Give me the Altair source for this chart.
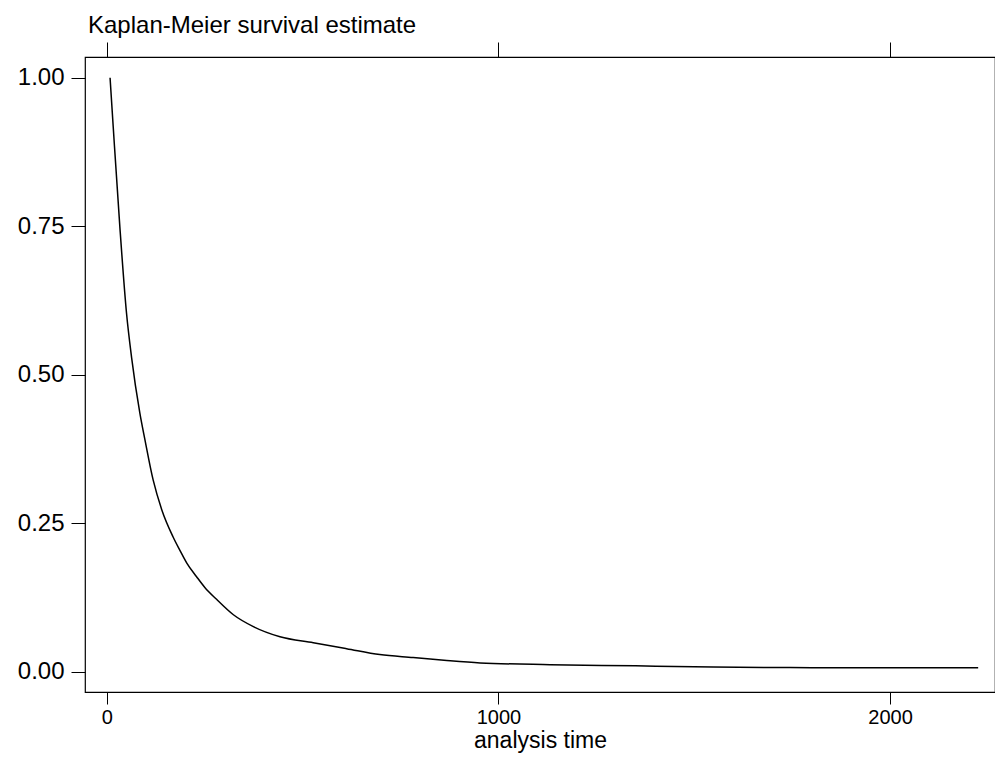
import altair as alt
import pandas as pd

# Kaplan-Meier survival curve
time = [8, 16, 33, 50, 63, 84, 97, 118, 140, 169, 186, 204, 229, 250, 280, 323, 374, 442,
        527, 612, 697, 782, 868, 953, 1132, 1350, 1548, 1800, 2225]
survival = [1.0, 0.918, 0.749, 0.604, 0.529, 0.436, 0.391, 0.323, 0.273, 0.227, 0.205, 0.183,
            0.160, 0.142, 0.122, 0.096, 0.076, 0.059, 0.049, 0.039, 0.029, 0.024, 0.019, 0.015,
            0.012, 0.010, 0.008, 0.007, 0.007]
x_ticks = [0, 1000, 2000]
y_ticks = [0, 0.25, 0.5, 0.75, 1.0]

df = pd.DataFrame({"t": time, "s": survival})

FONT = "Liberation Sans"
xscale = alt.Scale(domain=[-56, 2268], nice=False, zero=False)
yscale = alt.Scale(domain=[-0.034, 1.035], nice=False, zero=False)

yenc = alt.Y("s:Q", scale=yscale,
             axis=alt.Axis(values=y_ticks, format=".2f", title=None, grid=False, domain=False,
                           tickSize=14, tickColor="black", labelPadding=7, labelFontSize=24,
                           labelFont=FONT, labelColor="black"))

line = alt.Chart(df).mark_line(color="black", strokeWidth=1.5, interpolate="monotone").encode(
    x=alt.X("t:Q", scale=xscale,
            axis=alt.Axis(orient="bottom", values=x_ticks, format="d", title="analysis time",
                          grid=False, domain=False, tickSize=12, tickColor="black",
                          labelPadding=3, labelFontSize=20, labelFont=FONT, labelColor="black",
                          titleFont=FONT, titleFontSize=23, titleFontWeight="normal",
                          titleColor="black", titlePadding=2)),
    y=yenc,
)

top = alt.Chart(df).mark_line(opacity=0).encode(
    x=alt.X("t:Q", scale=xscale,
            axis=alt.Axis(orient="top", values=x_ticks, labels=False, title=None, grid=False,
                          domain=False, tickSize=15, tickColor="black")),
    y=yenc,
)

chart = alt.layer(line, top).resolve_axis(x="independent").properties(
    width=910, height=635,
    title=alt.TitleParams("Kaplan-Meier survival estimate", anchor="start", frame="group",
                          fontSize=24, font=FONT, fontWeight="normal", color="black",
                          dx=3, offset=4),
    autosize=alt.AutoSizeParams(type="none"),
    padding={"left": 77, "top": 49, "right": 0, "bottom": 64},
    background="white",
).configure_view(stroke="black", strokeWidth=1.2)

chart.save("out.html", embed_options={"renderer": "svg", "actions": False})
